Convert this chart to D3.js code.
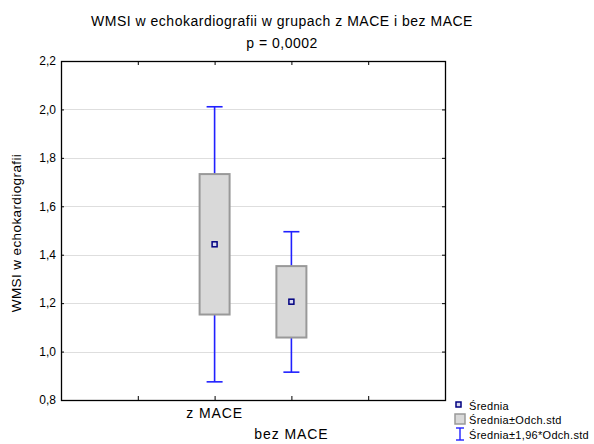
<!DOCTYPE html>
<html>
<head>
<meta charset="utf-8">
<script src="https://cdn.jsdelivr.net/npm/d3@7"></script>
<style>
  html, body { margin: 0; padding: 0; background: #fff; }
  svg { display: block; font-family: "Liberation Sans", Arial, sans-serif; }
</style>
</head>
<body>
<svg id="chart" width="594" height="444"></svg>
<script>
// Groups and summary statistics (mean, mean ± SD, mean ± 1.96·SD)
const categories = ["z MACE", "bez MACE"];
const means      = [1.443, 1.206];
const boxLow     = [1.153, 1.058];
const boxHigh    = [1.733, 1.353];
const whiskLow   = [0.875, 0.915];
const whiskHigh  = [2.011, 1.495];
const yTicks     = [0.8, 1.0, 1.2, 1.4, 1.6, 1.8, 2.0, 2.2];

const title1 = "WMSI w echokardiografii w grupach z MACE i bez MACE";
const title2 = "p = 0,0002";
const yLabel = "WMSI w echokardiografii";
const legendLabels = ["Średnia", "Średnia±Odch.std", "Średnia±1,96*Odch.std"];

const svg = d3.select("#chart");
const plot = { left: 61, right: 445, top: 61, bottom: 400 };

// x: five equal bands; the two groups sit on the 2nd and 3rd inner ticks
const xSlots = d3.scaleLinear().domain([0, 5]).range([plot.left, plot.right]);
const xCat = d3.scaleOrdinal().domain(categories).range([xSlots(2), xSlots(3)]);
const y = d3.scaleLinear().domain([0.8, 2.2]).range([plot.bottom, plot.top]);

const fmt = v => d3.format(".1f")(v).replace(".", ",");

// horizontal gridlines
svg.append("g")
  .selectAll("line")
  .data(yTicks.slice(1, -1))
  .join("line")
  .attr("x1", plot.left).attr("x2", plot.right)
  .attr("y1", d => Math.round(y(d)) + 0.5).attr("y2", d => Math.round(y(d)) + 0.5)
  .attr("stroke", "#dedede").attr("stroke-width", 1);

// y axis (labels + inner ticks)
const yAxis = d3.axisLeft(y).tickValues(yTicks).tickFormat(fmt).tickSize(-3).tickPadding(5);
const gy = svg.append("g").attr("transform", `translate(${plot.left},0)`).call(yAxis);
gy.select(".domain").remove();
gy.selectAll("line").attr("stroke", "#000");
gy.selectAll("text").attr("font-size", 12).attr("fill", "#000")
  .attr("font-family", "'Liberation Sans', Arial, sans-serif");

// right side inner ticks
const yAxisR = d3.axisRight(y).tickValues(yTicks).tickFormat("").tickSize(-3);
const gyr = svg.append("g").attr("transform", `translate(${plot.right},0)`).call(yAxisR);
gyr.select(".domain").remove();
gyr.selectAll("line").attr("stroke", "#000");

// bottom / top inner ticks
const xTickVals = [1, 2, 3, 4];
const xAxisB = d3.axisBottom(xSlots).tickValues(xTickVals).tickFormat("").tickSize(-4);
const gxb = svg.append("g").attr("transform", `translate(0,${plot.bottom})`).call(xAxisB);
gxb.select(".domain").remove();
gxb.selectAll("line").attr("stroke", "#000");
const xAxisT = d3.axisTop(xSlots).tickValues(xTickVals).tickFormat("").tickSize(-4);
const gxt = svg.append("g").attr("transform", `translate(0,${plot.top})`).call(xAxisT);
gxt.select(".domain").remove();
gxt.selectAll("line").attr("stroke", "#000");

// frame
svg.append("rect")
  .attr("x", plot.left + 0.5).attr("y", plot.top + 0.5)
  .attr("width", plot.right - plot.left).attr("height", plot.bottom - plot.top)
  .attr("fill", "none").attr("stroke", "#000").attr("stroke-width", 1.3);

const data = categories.map((c, i) => ({
  cat: c, mean: means[i], bl: boxLow[i], bh: boxHigh[i], wl: whiskLow[i], wh: whiskHigh[i]
}));

const boxW = 30, capW = 16;
const blue = "#2020ff";

const groups = svg.append("g").selectAll("g").data(data).join("g");

// whiskers (mean ± 1.96·SD)
groups.append("line")
  .attr("x1", d => xCat(d.cat)).attr("x2", d => xCat(d.cat))
  .attr("y1", d => y(d.wl)).attr("y2", d => y(d.wh))
  .attr("stroke", blue).attr("stroke-width", 1.6);
groups.append("line")
  .attr("x1", d => xCat(d.cat) - capW / 2).attr("x2", d => xCat(d.cat) + capW / 2)
  .attr("y1", d => y(d.wl)).attr("y2", d => y(d.wl))
  .attr("stroke", blue).attr("stroke-width", 1.6);
groups.append("line")
  .attr("x1", d => xCat(d.cat) - capW / 2).attr("x2", d => xCat(d.cat) + capW / 2)
  .attr("y1", d => y(d.wh)).attr("y2", d => y(d.wh))
  .attr("stroke", blue).attr("stroke-width", 1.6);

// boxes (mean ± SD)
groups.append("rect")
  .attr("x", d => xCat(d.cat) - boxW / 2)
  .attr("y", d => y(d.bh))
  .attr("width", boxW)
  .attr("height", d => y(d.bl) - y(d.bh))
  .attr("fill", "#d9d9d9").attr("stroke", "#999").attr("stroke-width", 2);

// mean markers
groups.append("rect")
  .attr("x", d => xCat(d.cat) - 2.5)
  .attr("y", d => y(d.mean) - 2.5)
  .attr("width", 5).attr("height", 5)
  .attr("fill", "#d8d8f0").attr("stroke", "#000080").attr("stroke-width", 1.5);

// category labels (staggered)
svg.append("g").selectAll("text").data(categories).join("text")
  .attr("x", d => xCat(d))
  .attr("y", (d, i) => plot.bottom + 18 + i * 21)
  .attr("text-anchor", "middle")
  .attr("font-size", 14).attr("letter-spacing", 0.9).attr("fill", "#000")
  .text(d => d);

// titles
svg.append("text").attr("x", 282).attr("y", 26).attr("text-anchor", "middle")
  .attr("font-size", 14).attr("letter-spacing", 0.5).text(title1);
svg.append("text").attr("x", 282).attr("y", 48).attr("text-anchor", "middle")
  .attr("font-size", 14).attr("letter-spacing", 0.5).text(title2);

// y axis title
svg.append("text")
  .attr("transform", `translate(21,233) rotate(-90)`)
  .attr("text-anchor", "middle").attr("font-size", 13.5).attr("letter-spacing", 0.4)
  .text(yLabel);

// legend
const lg = svg.append("g").attr("font-size", 11).attr("letter-spacing", 0.3);
const lx = 455;
lg.append("rect").attr("x", lx + 1).attr("y", 402).attr("width", 5).attr("height", 5)
  .attr("fill", "#d8d8f0").attr("stroke", "#000080").attr("stroke-width", 1.5);
lg.append("text").attr("x", lx + 14).attr("y", 410).text(legendLabels[0]);
lg.append("rect").attr("x", lx).attr("y", 414).attr("width", 10).attr("height", 10)
  .attr("fill", "#d9d9d9").attr("stroke", "#999").attr("stroke-width", 1.5);
lg.append("text").attr("x", lx + 14).attr("y", 424).text(legendLabels[1]);
const ix = lx + 5;
lg.append("line").attr("x1", ix).attr("x2", ix).attr("y1", 428).attr("y2", 440)
  .attr("stroke", blue).attr("stroke-width", 1.4);
lg.append("line").attr("x1", ix - 4).attr("x2", ix + 4).attr("y1", 428).attr("y2", 428)
  .attr("stroke", blue).attr("stroke-width", 1.4);
lg.append("line").attr("x1", ix - 4).attr("x2", ix + 4).attr("y1", 440).attr("y2", 440)
  .attr("stroke", blue).attr("stroke-width", 1.4);
lg.append("text").attr("x", lx + 14).attr("y", 439).text(legendLabels[2]);
</script>
</body>
</html>
